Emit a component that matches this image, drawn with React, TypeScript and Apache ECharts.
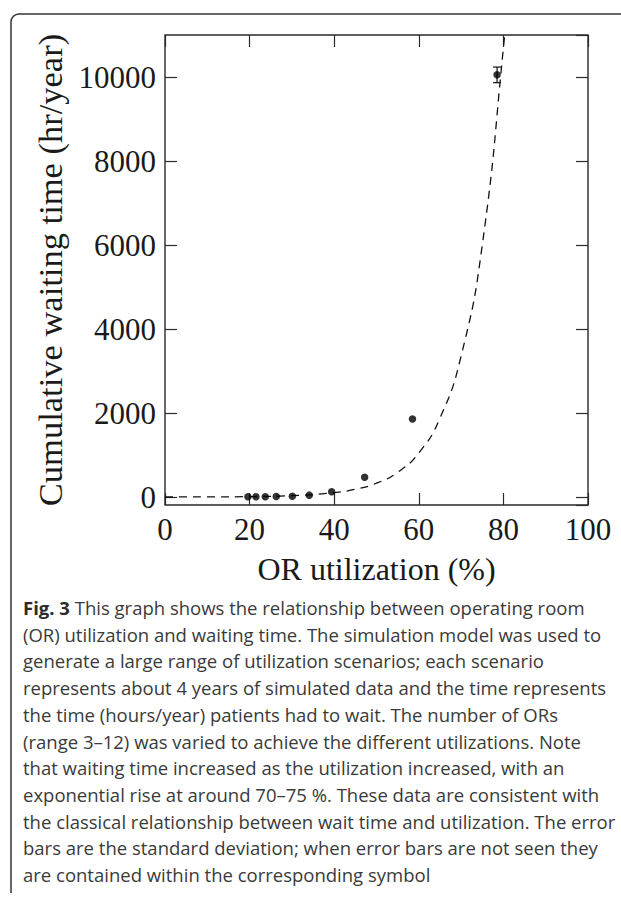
import React, { useEffect, useRef } from "react";
import * as echarts from "echarts";

// Scatter data: OR utilization (%) vs cumulative waiting time (hr/year)
const UTILIZATION = [19.6, 21.5, 23.7, 26.3, 30.1, 34.1, 39.4, 47.2, 58.5, 78.5];
const WAIT_TIME = [5, 5, 8, 12, 20, 45, 125, 470, 1860, 10060];
const WAIT_SD = [0, 0, 0, 0, 0, 0, 0, 0, 0, 186];

// Dashed fitted curve
const FIT_X = [0, 10, 20, 30, 40, 45, 50, 55, 60, 65, 70, 75, 80, 81];
const FIT_Y = [1, 3.2, 10, 32, 104, 186, 330, 590, 1050, 1880, 3360, 6000, 10700, 12000];

// Axis ranges / tick labels
const X_MIN = 0;
const X_MAX = 100;
const X_STEP = 20;
const Y_MIN = -190;
const Y_MAX = 11010;
const Y_TICKS = [0, 2000, 4000, 6000, 8000, 10000];

const CAPTION_LINES = [
  "This graph shows the relationship between operating room",
  "(OR) utilization and waiting time. The simulation model was used to",
  "generate a large range of utilization scenarios; each scenario",
  "represents about 4 years of simulated data and the time represents",
  "the time (hours/year) patients had to wait. The number of ORs",
  "(range 3–12) was varied to achieve the different utilizations. Note",
  "that waiting time increased as the utilization increased, with an",
  "exponential rise at around 70–75 %. These data are consistent with",
  "the classical relationship between wait time and utilization. The error",
  "bars are the standard deviation; when error bars are not seen they",
  "are contained within the corresponding symbol",
];

const SERIF = "'Liberation Serif', 'Times New Roman', serif";
const SANS = "'Open Sans', 'Noto Sans', sans-serif";

export default function App() {
  const ref = useRef<HTMLDivElement>(null);

  useEffect(() => {
    document.body.style.margin = "0";
    if (!ref.current) return;
    const chart = echarts.init(ref.current, null, { renderer: "svg" });

    const scatterData = UTILIZATION.map((x, i) => [x, WAIT_TIME[i]]);
    const errData = UTILIZATION.map((x, i) => [x, WAIT_TIME[i] - WAIT_SD[i], WAIT_TIME[i] + WAIT_SD[i]]).filter(
      (_, i) => WAIT_SD[i] > 0
    );
    const fitData = FIT_X.map((x, i) => [x, FIT_Y[i]]);

    const tickStyle = { color: "#2a2a2a", width: 1.2 };
    const yStep = Y_TICKS[1] - Y_TICKS[0];
    const plain = (v: number) => String(v);
    const noLine = { show: false, onZero: false };

    const captionGraphics: any[] = CAPTION_LINES.map((line, i) => ({
      type: "text",
      left: 23,
      top: 598 + i * 26.7,
      style:
        i === 0
          ? {
              text: "{b|Fig. 3} " + line,
              rich: {
                b: { fontFamily: SANS, fontSize: 18.5, fontWeight: "bold", fill: "#2b2b2b" },
              },
              fontFamily: SANS,
              fontSize: 18.5,
              fill: "#3a3a3a",
            }
          : { text: line, fontFamily: SANS, fontSize: 18.5, fill: "#3a3a3a" },
    }));

    const yCommon = {
      type: "value",
      min: Y_MIN,
      max: Y_MAX,
      splitNumber: 5,
      minInterval: yStep,
      maxInterval: yStep,
      axisLine: noLine,
      axisTick: { show: true, inside: true, length: 12, lineStyle: tickStyle },
      splitLine: { show: false },
    };

    const option: any = {
      animation: false,
      backgroundColor: "#fff",
      grid: {
        left: 165,
        top: 35,
        width: 423,
        height: 470,
        show: true,
        borderColor: "#2a2a2a",
        borderWidth: 1.4,
        backgroundColor: "transparent",
        containLabel: false,
      },
      xAxis: [
        {
          type: "value",
          position: "bottom",
          min: X_MIN,
          max: X_MAX,
          interval: X_STEP,
          axisLine: noLine,
          axisTick: { show: true, inside: true, length: 12, lineStyle: tickStyle },
          axisLabel: {
            formatter: plain,
            fontFamily: SERIF,
            fontSize: 31,
            color: "#1a1a1a",
            margin: 9,
          },
          splitLine: { show: false },
          name: "OR utilization (%)",
          nameLocation: "middle",
          nameGap: 48,
          nameTextStyle: { fontFamily: SERIF, fontSize: 32, color: "#1a1a1a" },
        },
        {
          type: "value",
          position: "top",
          min: X_MIN,
          max: X_MAX,
          interval: X_STEP,
          axisLine: noLine,
          axisTick: { show: true, inside: true, length: 12, lineStyle: tickStyle },
          axisLabel: { show: false },
          splitLine: { show: false },
        },
      ],
      yAxis: [
        {
          ...yCommon,
          position: "left",
          axisLabel: {
            formatter: plain,
            showMinLabel: false,
            showMaxLabel: false,
            fontFamily: SERIF,
            fontSize: 31,
            color: "#1a1a1a",
            margin: 9,
          },
          name: "Cumulative waiting time (hr/year)",
          nameLocation: "middle",
          nameRotate: 90,
          nameGap: 92,
          nameTextStyle: { fontFamily: SERIF, fontSize: 34.5, color: "#1a1a1a" },
        },
        {
          ...yCommon,
          position: "right",
          axisLabel: { show: false },
        },
      ],
      series: [
        {
          type: "line",
          data: fitData,
          smooth: true,
          showSymbol: false,
          symbol: "none",
          clip: true,
          lineStyle: { color: "#111", width: 1.3, type: [8, 6] },
          z: 2,
        },
        {
          type: "custom",
          data: errData,
          clip: true,
          z: 3,
          renderItem: (params: any, api: any) => {
            const x = api.value(0);
            const lo = api.coord([x, api.value(1)]);
            const hi = api.coord([x, api.value(2)]);
            const cap = 4;
            const style = { stroke: "#111", lineWidth: 1.2 };
            return {
              type: "group",
              children: [
                { type: "line", shape: { x1: lo[0], y1: lo[1], x2: hi[0], y2: hi[1] }, style },
                { type: "line", shape: { x1: lo[0] - cap, y1: lo[1], x2: lo[0] + cap, y2: lo[1] }, style },
                { type: "line", shape: { x1: hi[0] - cap, y1: hi[1], x2: hi[0] + cap, y2: hi[1] }, style },
              ],
            };
          },
        },
        {
          type: "scatter",
          data: scatterData,
          symbol: "circle",
          symbolSize: 7.5,
          itemStyle: { color: "#000" },
          z: 4,
        },
      ],
      graphic: [
        {
          type: "line",
          shape: { x1: 11, y1: 22, x2: 11, y2: 893 },
          style: { stroke: "#333", lineWidth: 1.5 },
        },
        {
          type: "arc",
          shape: { cx: 19, cy: 22, r: 8, startAngle: Math.PI, endAngle: Math.PI * 1.5, clockwise: true },
          style: { stroke: "#333", lineWidth: 1.5, fill: "none" },
        },
        {
          type: "line",
          shape: { x1: 19, y1: 14, x2: 621, y2: 14 },
          style: { stroke: "#333", lineWidth: 1.5 },
        },
        ...captionGraphics,
      ],
    };

    chart.setOption(option);
    return () => chart.dispose();
  }, []);

  return <div ref={ref} style={{ width: 621, height: 897 }} />;
}
